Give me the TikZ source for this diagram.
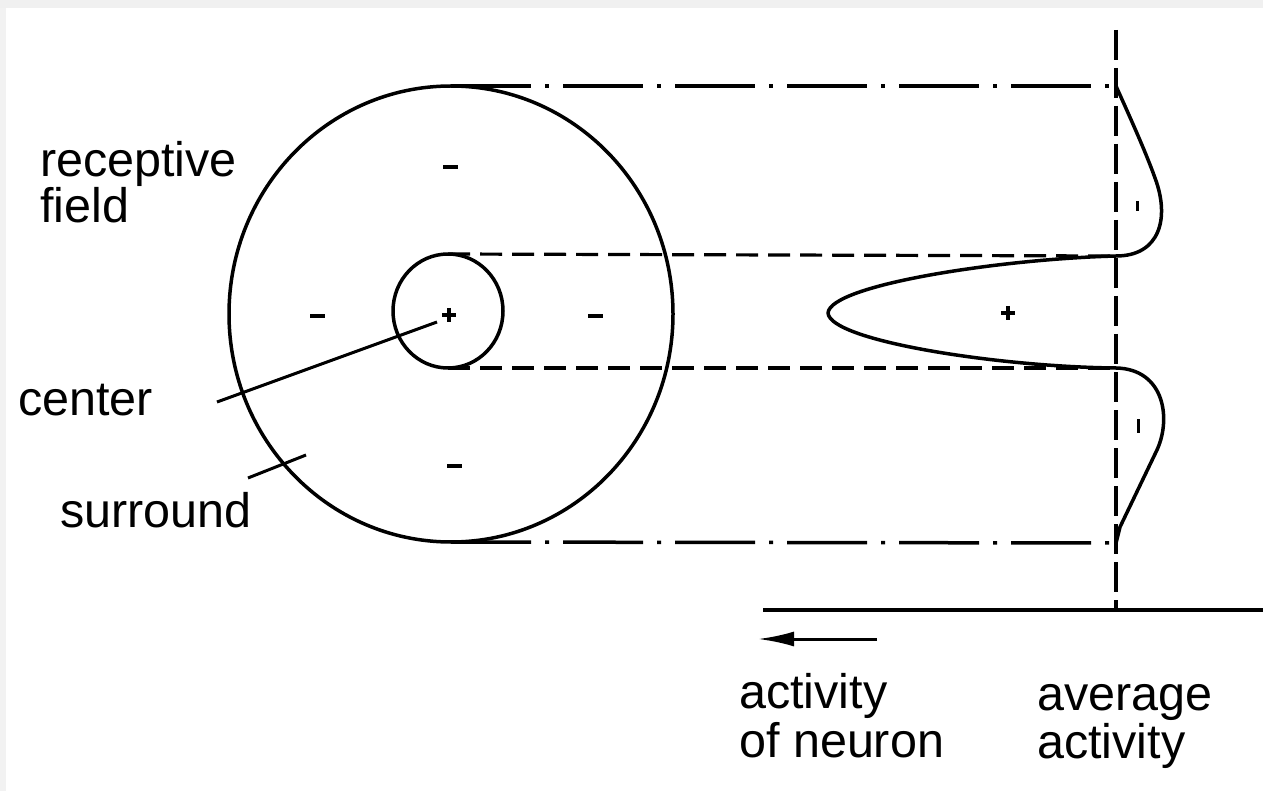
\documentclass[tikz,border=0pt]{standalone}
\usepackage{fontspec}
\setmainfont{Liberation Sans}
\usetikzlibrary{arrows.meta}
\tikzset{
  x=1pt, y=-1pt,
  stroke/.style={line width=3.5pt, line cap=round, line join=round},
  dashdot/.style={line width=3.5pt, dash pattern=on 80pt off 14pt on 4pt off 14pt},
  dashln/.style={line width=3.2pt, dash pattern=on 22pt off 10pt},
  vdash/.style={line width=4pt, dash pattern=on 30pt off 8pt},
  sign/.style={line width=4pt},
  lbl/.style={anchor=base west, inner sep=0pt, font=\fontsize{48.5pt}{48.5pt}\selectfont},
}
\begin{document}
\begin{tikzpicture}
\useasboundingbox (0,0) rectangle (1263,791);
\fill[gray!12] (0,0) rectangle (1263,8);
\fill[gray!10] (0,8) rectangle (6,791);

% receptive field
\draw[stroke] (451,314) ellipse [x radius=222, y radius=228];
\draw[stroke] (448,311) ellipse [x radius=55, y radius=57];
\coordinate (bigtop) at (451,86);
\coordinate (bigbot) at (451,542);
\coordinate (smtop) at (448,254);
\coordinate (smbot) at (448,368);

% axes
\coordinate (vtop) at (1116,30);
\coordinate (vbot) at (1116,610);
\coordinate (atop) at (1116,86);
\coordinate (abot) at (1116,543);
\coordinate (dtop) at (1116,256);
\coordinate (dbot) at (1116,368);
\draw[vdash] (vtop) -- (vbot);
\draw[line width=3.5pt] (763,610) -- (1263,610);
\coordinate (arrS) at (877,639);
\coordinate (arrE) at (758,639);
\draw[line width=3pt, -{Latex[length=36pt, width=15pt]}] (arrS) -- (arrE);

% projection lines
\draw[dashdot] (bigtop) -- (atop);
\draw[dashdot] (bigbot) -- (abot);
\draw[dashln] (smtop) -- (dtop);
\draw[dashln] (smbot) -- (dbot);

% activity curve
\draw[stroke] (atop) .. controls (1128,113) and (1145,150) .. (1155,178)
  .. controls (1170,218) and (1160,256) .. (dtop)
  .. controls (1000,259) and (830,285) .. (828,313)
  .. controls (830,341) and (1000,367) .. (dbot)
  .. controls (1165,369) and (1172,420) .. (1156,452)
  -- (1120,527) -- (abot);

% signs
\draw[sign] (443,167) -- (458,167);
\draw[sign] (310,316) -- (325,316);
\draw[sign] (588,316) -- (603,316);
\draw[sign] (447,466) -- (462,466);
\draw[line width=3.5pt] (442,315) -- (456,315) (449,308) -- (449,322);
\draw[line width=3.5pt] (1001,313) -- (1015,313) (1008,306) -- (1008,320);
\draw[line width=3pt] (1137,201) -- (1137,211);
\draw[line width=3pt] (1138,419) -- (1138,433);

% labels
\node[lbl, align=left, font=\fontsize{48.5pt}{41pt}\selectfont] (rec) at (40,223) {receptive\\field};
\node[lbl] (cen) at (18,415) {center};
\node[lbl] (sur) at (60,527) {surround};
\node[lbl] (act1) at (739,708) {activity};
\node[lbl] (act2) at (739,757) {of neuron};
\node[lbl] (avg1) at (1037,710) {average};
\node[lbl] (avg2) at (1037,758) {activity};

% pointers
\coordinate (cenA) at (217,402);
\coordinate (cenB) at (437,322);
\coordinate (surA) at (248,478);
\coordinate (surB) at (306,455);
\draw[line width=3pt] (cenA) -- (cenB);
\draw[line width=3pt] (surA) -- (surB);
\end{tikzpicture}
\end{document}
